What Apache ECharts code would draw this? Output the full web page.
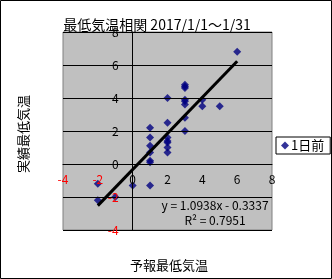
<!DOCTYPE html>
<html><head><meta charset="utf-8">
<script src="https://cdn.jsdelivr.net/npm/echarts@6/dist/echarts.min.js"></script>
<style>html,body{margin:0;padding:0;background:#fff}#c{width:332px;height:279px}</style>
</head><body><div id="c"></div>
<script>
const titleText = '最低気温相関 2017/1/1～1/31';
const xTitle = '予報最低気温';
const yTitle = '実績最低気温';
const seriesName = '1日前';
const forecastX = [-2,-2,-1,0,1,1,1,1,1,1,1,2,2,2,2,2,2,2,3,3,3,3,3,3,3,3,4,4,5,6];
const actualY  = [-1.2,-2.2,-2.0,-1.3,-1.3,2.2,1.6,1.1,0.7,0.2,0.1,4.0,2.5,1.6,1.4,1.3,1.0,0.7,4.8,4.7,4.6,3.9,3.8,3.6,2.8,2.0,3.9,3.5,3.5,6.8];
const trendSlope = 1.0938;
const trendIntercept = -0.3337;
const rSquared = 0.7951;
const axisMin = -4, axisMax = 8, axisStep = 2;

const font = '"MS PGothic","Noto Sans CJK JP",sans-serif';
const pts = forecastX.map((x,i)=>[x, actualY[i]]);
const xLo = Math.min(...forecastX), xHi = Math.max(...forecastX);
const trend = [[xLo, trendSlope*xLo+trendIntercept],[xHi, trendSlope*xHi+trendIntercept]];
const labColor = v => (v < 0 ? '#ff0000' : '#000000');

const chart = echarts.init(document.getElementById('c'), null, {renderer:'canvas'});
chart.setOption({
  animation:false,
  backgroundColor:'#ffffff',
  title:{text:titleText, left:152, textAlign:'center', top:13,
    textStyle:{fontFamily:font, fontSize:14, fontWeight:'normal', color:'#000'}},
  grid:{left:63, top:32, right:60, bottom:49, containLabel:false, outerBoundsMode:'none',
    show:true, backgroundColor:'#c0c0c0', borderColor:'#808080', borderWidth:1},
  legend:{data:[{name:seriesName, icon:'diamond'}], left:276, top:137, orient:'vertical',
    itemWidth:8, itemHeight:8, itemGap:2, padding:[2,6,2,5], borderColor:'#000', borderWidth:1, backgroundColor:'#fff',
    textStyle:{fontFamily:font, fontSize:13, color:'#000', padding:[0,0,0,-3]}},
  xAxis:{type:'value', min:axisMin, max:axisMax, interval:axisStep, z:10,
    axisLine:{show:true, onZero:false, lineStyle:{color:'#000', width:1}},
    axisTick:{show:false}, splitLine:{show:false},
    axisLabel:{margin:9, fontFamily:font, fontSize:12, color:labColor, showMinLabel:true, showMaxLabel:true}},
  yAxis:{type:'value', min:axisMin, max:axisMax, interval:axisStep, z:10,
    axisLine:{show:true, onZero:false, lineStyle:{color:'#000', width:1}},
    axisTick:{show:false},
    splitLine:{show:true, lineStyle:{color:'#000', width:1}},
    axisLabel:{margin:14, fontFamily:font, fontSize:12, color:labColor, showMinLabel:true, showMaxLabel:true}},
  series:[
    {name:seriesName, type:'scatter', symbol:'diamond', symbolSize:8, data:pts,
      itemStyle:{color:'#000080'}, z:3},
    {name:'trend', type:'line', data:trend, symbol:'none', lineStyle:{color:'#000', width:3}, z:4, silent:true}
  ],
  graphic:[
    {type:'rect', shape:{x:0.5,y:0.5,width:331,height:278}, style:{fill:'none', stroke:'#000', lineWidth:1}, silent:true},
    {type:'text', x:169, y:265, style:{text:xTitle, font:'13px '+font, fill:'#000', align:'center', verticalAlign:'middle'}, z:20},
    {type:'text', x:23, y:134, rotation:Math.PI/2, style:{text:yTitle, font:'13px '+font, fill:'#000', align:'center', verticalAlign:'middle'}, z:20},
    {type:'text', x:215, y:205, style:{text:'y = '+trendSlope.toFixed(4)+'x - '+Math.abs(trendIntercept).toFixed(4), font:'12px '+font, fill:'#000', align:'center', verticalAlign:'middle'}, z:20},
    {type:'text', x:215, y:220, style:{text:'R² = '+rSquared.toFixed(4), font:'12px '+font, fill:'#000', align:'center', verticalAlign:'middle'}, z:20}
  ]
});
// place the axes through the origin (as in the spreadsheet chart)
const corner = chart.convertToPixel({gridIndex:0}, [axisMin, axisMin]);
const origin = chart.convertToPixel({gridIndex:0}, [0, 0]);
chart.setOption({
  xAxis:{offset: -(corner[1] - origin[1])},
  yAxis:{offset: -(origin[0] - corner[0])}
});
</script></body></html>
